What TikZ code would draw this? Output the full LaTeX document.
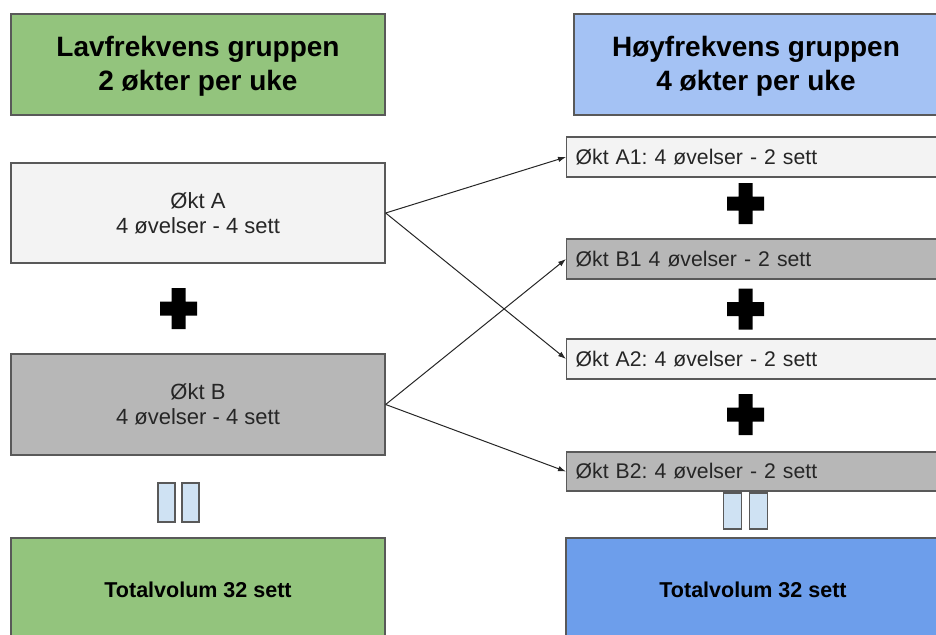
\documentclass[tikz,border=0pt]{standalone}
\usepackage{fontspec}
\setmainfont{Liberation Sans}
\usetikzlibrary{arrows.meta}
\frenchspacing
\definecolor{hgreen}{HTML}{93C47D}
\definecolor{hblue}{HTML}{A4C2F4}
\definecolor{tblue}{HTML}{6D9EEB}
\definecolor{lgray}{HTML}{F3F3F3}
\definecolor{mgray}{HTML}{B7B7B7}
\definecolor{eqfill}{HTML}{CFE2F3}
\definecolor{bordc}{HTML}{595959}
\definecolor{txtc}{HTML}{262626}
\tikzset{
  box/.style={draw=bordc, line width=1.3pt, rectangle, inner sep=0pt, align=center},
  headbox/.style={box, font=\fontsize{28}{34}\selectfont\bfseries, text=black},
  lbox/.style={box, minimum width=374pt, minimum height=100pt, font=\fontsize{22}{25}\selectfont, text=txtc},
  rbox/.style={box, anchor=west, minimum height=40pt, text width=366pt, inner xsep=9pt, align=left, font=\fontsize{21.2}{26}\selectfont, text=txtc},
  totbox/.style={box, font=\fontsize{21.5}{26}\selectfont\bfseries, text=black},
  conn/.style={draw=black!85, line width=1pt, -{Latex[length=8pt,width=5.5pt]}},
  eqbar/.style={draw=bordc, line width=1.5pt, fill=eqfill},
  plussign/.pic={\fill[black] (-18.5,-7) rectangle (18.5,7) (-7,-20.5) rectangle (7,20.5);}
}
\begin{document}
\begin{tikzpicture}[x=1pt,y=-1pt]
\useasboundingbox (0,0) rectangle (936,634);
\clip (0,0) rectangle (936,634);
% headers
\node[headbox, fill=hgreen, minimum width=374pt, minimum height=101pt] (hl) at (198,64.5) {\rule{0pt}{24pt}Lavfrekvens gruppen\\2 økter per uke};
\node[headbox, fill=hblue, minimum width=364pt, minimum height=101pt] (hr) at (756,64.5) {\rule{0pt}{24pt}Høyfrekvens gruppen\\4 økter per uke};
% left sessions
\node[lbox, fill=lgray] (ta) at (198,213) {Økt A\\4 øvelser - 4 sett};
\node[lbox, fill=mgray, minimum height=101pt] (tb) at (198,404.5) {Økt B\\4 øvelser - 4 sett};
% right sessions
\node[rbox, fill=lgray] (a1) at (566,157) {Økt A1: 4 øvelser - 2 sett};
\node[rbox, fill=mgray] (b1) at (566,259) {Økt B1 4 øvelser - 2 sett};
\node[rbox, fill=lgray] (a2) at (566,359) {Økt A2: 4 øvelser - 2 sett};
\node[rbox, fill=mgray, minimum height=39pt] (b2) at (566,471.5) {Økt B2: 4 øvelser - 2 sett};
% totals
\node[totbox, fill=hgreen, minimum width=374pt, minimum height=104pt] (sl) at (198,590) {Totalvolum 32 sett};
\node[totbox, fill=tblue, minimum width=374pt, minimum height=104pt] (sr) at (753,590) {Totalvolum 32 sett};
% plus signs
\pic at (178.5,308.5) {plussign};
\pic at (745.5,203.5) {plussign};
\pic at (745.5,309) {plussign};
\pic at (745.5,414.5) {plussign};
% equals bars
\draw[eqbar] (158,483) rectangle (175,522);
\draw[eqbar] (182,483) rectangle (199,522);
\draw[eqbar] (723.5,493) rectangle (741.5,529);
\draw[eqbar] (749.5,493) rectangle (767.5,529);
% connectors
\draw[conn] (ta.east) -- (a1.west);
\draw[conn] (ta.east) -- (a2.west);
\draw[conn] (tb.east) -- (b1.west);
\draw[conn] (tb.east) -- (b2.west);
\end{tikzpicture}
\end{document}
